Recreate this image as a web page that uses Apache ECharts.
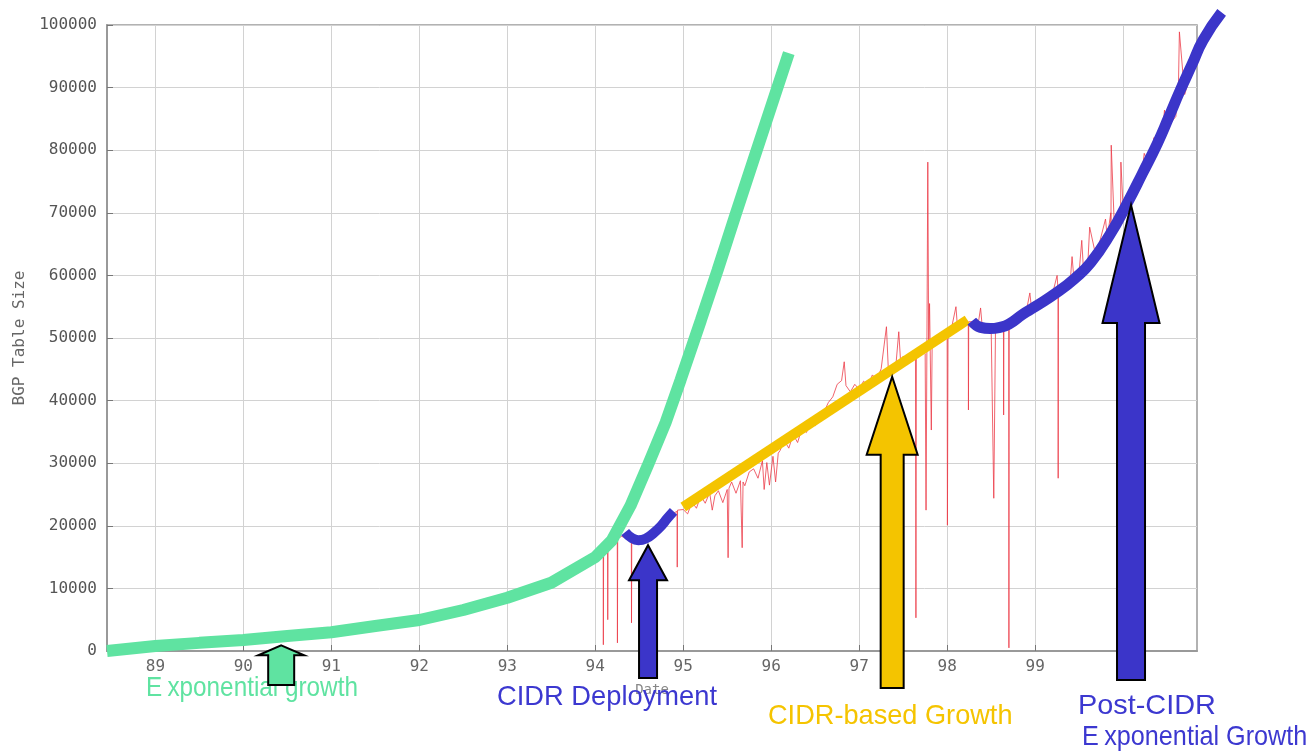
<!DOCTYPE html>
<html><head><meta charset="utf-8">
<script src="https://cdn.jsdelivr.net/npm/echarts@6/dist/echarts.min.js"></script>
<style>html,body{margin:0;padding:0;background:#fff}#c{width:1312px;height:751px}</style>
</head><body><div id="c"></div>
<script>
// ---- data (years since 1900; 100 = 2000) ----
const tickYears = [89, 90, 91, 92, 93, 94, 95, 96, 97, 98, 99, 100];

const greenYears = [88.45, 89, 89.5, 90, 90.5, 91, 91.5, 92, 92.5, 93, 93.5, 94, 94.19, 94.4, 94.59, 94.8, 94.97, 95.2, 95.39, 95.59, 95.8, 96.0, 96.2];
const greenSizes = [0, 800, 1300, 1750, 2400, 3000, 4000, 4950, 6550, 8500, 10900, 15000, 17700, 23200, 29400, 36500, 43300, 52800, 60800, 69500, 78500, 87000, 95500];

const cidrYears = [94.34, 94.42, 94.49, 94.58, 94.66, 94.75, 94.82, 94.89];
const cidrSizes = [19000, 18000, 17700, 18000, 18800, 20000, 21200, 22300];

const linearYears = [95.0, 98.23];
const linearSizes = [23000, 52900];

const postYears = [98.28, 98.38, 98.49, 98.6, 98.7, 98.86, 99.0, 99.25, 99.45, 99.63, 99.85, 100.05, 100.22, 100.39, 100.52, 100.65, 100.78, 100.91, 101.12];
const postSizes = [52700, 51700, 51500, 51700, 52200, 53800, 55000, 57300, 59500, 62000, 66500, 71600, 76300, 81100, 85300, 89600, 93600, 97600, 102000];

const bgpYears = [94.05, 94.09, 94.092, 94.095, 94.14, 94.142, 94.145, 94.2, 94.25, 94.252, 94.255, 94.3, 94.35, 94.41, 94.412, 94.415, 94.5, 94.6, 94.7, 94.75, 94.8, 94.85, 94.9, 94.93, 94.932, 94.935,
  95.0, 95.05, 95.1, 95.15, 95.2, 95.25, 95.3, 95.33, 95.36, 95.4, 95.45, 95.5, 95.51, 95.52, 95.55, 95.6, 95.65, 95.67, 95.68, 95.7, 95.75, 95.8, 95.85, 95.9, 95.92, 95.95, 95.98,
  96.02, 96.05, 96.08, 96.1, 96.15, 96.2, 96.25, 96.3, 96.35, 96.4, 96.45, 96.5, 96.55, 96.6, 96.65, 96.7, 96.75, 96.8, 96.83, 96.85, 96.9, 96.95,
  97.0, 97.05, 97.1, 97.15, 97.2, 97.25, 97.31, 97.33, 97.38, 97.42, 97.45, 97.47, 97.5, 97.55, 97.6, 97.64, 97.645, 97.65, 97.7, 97.75, 97.76, 97.77, 97.78, 97.79, 97.8, 97.82, 97.83, 97.87, 97.9, 97.95,
  98.0, 98.003, 98.01, 98.05, 98.1, 98.12, 98.15, 98.2, 98.24, 98.242, 98.245, 98.3, 98.35, 98.38, 98.4, 98.5, 98.53, 98.55, 98.6, 98.64, 98.642, 98.645, 98.7, 98.702, 98.705, 98.8, 98.9, 98.94, 98.96,
  99.0, 99.1, 99.2, 99.25, 99.26, 99.262, 99.265, 99.3, 99.4, 99.42, 99.44, 99.5, 99.53, 99.55, 99.6, 99.62, 99.7, 99.71, 99.8, 99.82, 99.86, 99.862, 99.865, 99.9, 99.97, 99.972, 99.975,
  100.0, 100.1, 100.2, 100.22, 100.24, 100.3, 100.33, 100.35, 100.4, 100.45, 100.47, 100.5, 100.6, 100.61, 100.63, 100.64, 100.7, 100.74, 100.76];
const bgpSizes = [16000, 16600, 1000, 16800, 17000, 5000, 17200, 17800, 18000, 1300, 18000, 18300, 18100, 18000, 4500, 18000, 17700, 18400, 19600, 20300, 21000, 21500, 22100, 22300, 13400, 22500,
  22600, 21900, 23800, 22800, 24800, 23600, 25300, 22500, 24800, 25600, 23700, 25800, 14900, 26000, 27000, 25200, 27200, 16500, 27000, 26400, 28600, 29100, 27600, 30400, 25800, 30100, 26500,
  31100, 27000, 31600, 32000, 33600, 32400, 34600, 33300, 35600, 34900, 36600, 36000, 37600, 38200, 39700, 40600, 42600, 43200, 46200, 42400, 41400, 42600,
  41800, 43100, 42400, 44100, 43400, 45100, 51800, 45400, 44600, 46100, 51000, 46400, 47100, 46500, 47600, 47500, 5300, 47800, 48100, 47500, 22500, 49000, 78100, 48500, 55500, 35300, 49600, 49000, 50100, 50600,
  50400, 20100, 51000, 51600, 55000, 51200, 52100, 52600, 52500, 38500, 52600, 52600, 52000, 54800, 51600, 51900, 24400, 52100, 52000, 52200, 37700, 52200, 52300, 500, 52400, 53200, 54300, 57200, 54600,
  55200, 56200, 57200, 60000, 57700, 27600, 57800, 58100, 59200, 63000, 59600, 60500, 65600, 60800, 62100, 67700, 62500, 64000, 69000, 66000, 70000, 67600, 80800, 68000, 68600, 70500, 78100, 70800,
  71800, 74500, 77000, 79500, 77400, 79800, 82000, 80400, 82600, 86400, 83600, 85400, 88300, 91000, 98900, 88900, 90800, 94000, 91500];

// annotation arrows: tip in data coordinates
const arrowTips = [[90.43, 900], [94.60, 16900], [97.375, 43800], [100.09, 71250]];

function pairs(xs, ys) { return xs.map((x, i) => [x, ys[i]]); }

// main plot frame
const X_MIN = 88.45, X_MAX = 100.84, Y_MAX = 100000;
const G = { left: 107, right: 115, top: 25, bottom: 100 };
const W = 1312, H = 751;
const plotW = W - G.left - G.right, plotH = H - G.top - G.bottom;
// an overflow frame with the very same scale, so the last curve can run past the border
const OV = { right: 80, top: 5 };
const ovXMax = X_MIN + (W - G.left - OV.right) * (X_MAX - X_MIN) / plotW;
const ovYMax = (H - OV.top - G.bottom) * Y_MAX / plotH;

const chart = echarts.init(document.getElementById('c'), null, { renderer: 'canvas' });
const tickFont = '"DejaVu Sans Mono", monospace';

chart.setOption({
  animation: false,
  backgroundColor: '#ffffff',
  grid: [
    { left: G.left, right: G.right, top: G.top, bottom: G.bottom, containLabel: false, outerBoundsMode: 'none',
      show: true, borderColor: '#999', borderWidth: 1.5, backgroundColor: 'transparent' },
    { left: G.left, right: OV.right, top: OV.top, bottom: G.bottom, containLabel: false, outerBoundsMode: 'none', show: false }
  ],
  xAxis: [{
    type: 'value', min: X_MIN, max: X_MAX, gridIndex: 0,
    name: 'Date', nameLocation: 'middle', nameGap: 32, nameMoveOverlap: false,
    nameTextStyle: { color: '#888', fontSize: 14, fontFamily: tickFont },
    axisLine: { show: true, onZero: false, lineStyle: { color: '#999', width: 2 } },
    axisTick: { show: true, inside: true, length: 6, customValues: tickYears, lineStyle: { color: '#777' } },
    axisLabel: { customValues: tickYears, color: '#666', fontSize: 16, fontFamily: tickFont, margin: 8,
      formatter: v => String(Math.round(v) % 100) },
    splitLine: { show: true, lineStyle: { color: '#d2d2d2', width: 1 } }
  }, {
    type: 'value', min: X_MIN, max: ovXMax, gridIndex: 1, show: false
  }],
  yAxis: [{
    type: 'value', min: 0, max: Y_MAX, interval: 10000, gridIndex: 0,
    name: 'BGP Table Size', nameLocation: 'middle', nameRotate: 90, nameGap: 79, nameMoveOverlap: false,
    nameTextStyle: { color: '#666', fontSize: 16, fontFamily: tickFont },
    axisLine: { show: true, lineStyle: { color: '#999', width: 2 } },
    axisTick: { show: true, inside: true, length: 6, lineStyle: { color: '#777' } },
    axisLabel: { color: '#555', fontSize: 16, fontFamily: tickFont, margin: 10, formatter: v => String(v) },
    splitLine: { show: true, lineStyle: { color: '#d2d2d2', width: 1 } }
  }, {
    type: 'value', min: 0, max: ovYMax, gridIndex: 1, show: false, splitLine: { show: false }
  }],
  series: [
    { name: 'BGP table', type: 'line', data: pairs(bgpYears, bgpSizes), showSymbol: false, z: 2,
      lineStyle: { color: 'rgba(236,60,72,0.8)', width: 1 } },
    { name: 'Exponential growth', type: 'line', data: pairs(greenYears, greenSizes), showSymbol: false, z: 3,
      lineStyle: { color: '#5fe3a1', width: 12, cap: 'butt' } },
    { name: 'CIDR Deployment', type: 'line', data: pairs(cidrYears, cidrSizes), showSymbol: false, smooth: true, z: 4,
      lineStyle: { color: '#3b35c9', width: 10 } },
    { name: 'CIDR-based Growth', type: 'line', data: pairs(linearYears, linearSizes), showSymbol: false, z: 4,
      lineStyle: { color: '#f4c400', width: 10 } },
    { name: 'Post-CIDR Exponential Growth', type: 'line', xAxisIndex: 1, yAxisIndex: 1,
      data: pairs(postYears, postSizes), showSymbol: false, smooth: true, z: 4,
      lineStyle: { color: '#3b35c9', width: 11 } }
  ]
});

// arrow shapes (pixel geometry relative to the data tip)
const arrowGeom = [
  { headHalf: 23, headH: 10, shaftHalf: 13, bottom: 685, fill: '#5fe3a1' },
  { headHalf: 19, headH: 35, shaftHalf: 9, bottom: 678, fill: '#3b35c9' },
  { headHalf: 25.5, headH: 78, shaftHalf: 11.5, bottom: 688, fill: '#f4c400' },
  { headHalf: 28.5, headH: 118, shaftHalf: 14, bottom: 680, fill: '#3b35c9' }
];
const graphics = [];
arrowTips.forEach((tip, i) => {
  const p = chart.convertToPixel({ gridIndex: 0 }, tip);
  const g = arrowGeom[i];
  const x = p[0], y = p[1], hb = y + g.headH;
  graphics.push({
    type: 'polygon', z: 20,
    shape: { points: [[x, y], [x + g.headHalf, hb], [x + g.shaftHalf, hb], [x + g.shaftHalf, g.bottom], [x - g.shaftHalf, g.bottom], [x - g.shaftHalf, hb], [x - g.headHalf, hb]] },
    style: { fill: g.fill, stroke: '#000', lineWidth: 2, lineJoin: 'miter' }
  });
});
const fam = '"Liberation Sans", Arial, sans-serif';
const texts = [
  { text: '{e|E}xponential growth', x: 146, y: 688, fill: '#5fe3a1', sx: 0.868 },
  { text: 'CIDR Deployment', x: 497, y: 697, fill: '#3c38d0', sx: 0.975 },
  { text: 'CIDR-based Growth', x: 768, y: 716, fill: '#f5c400', sx: 0.97 },
  { text: 'Post-CIDR', x: 1078, y: 706, fill: '#3c38d0', sx: 1.03 },
  { text: '{e|E}xponential Growth', x: 1082, y: 737, fill: '#3c38d0', sx: 0.9 }
];
texts.forEach(t => {
  graphics.push({
    type: 'text', z: 10, x: t.x, y: t.y, scaleX: t.sx, originX: 0, originY: 0,
    style: { text: t.text, x: 0, y: 0, fill: t.fill, fontSize: 28, fontFamily: fam,
      align: 'left', verticalAlign: 'middle', textAlign: 'left', textVerticalAlign: 'middle',
      rich: { e: { fontSize: 28, fontFamily: fam, fill: t.fill, padding: [0, 6, 0, 0] } } }
  });
});
chart.setOption({ graphic: graphics });
</script>
</body></html>
